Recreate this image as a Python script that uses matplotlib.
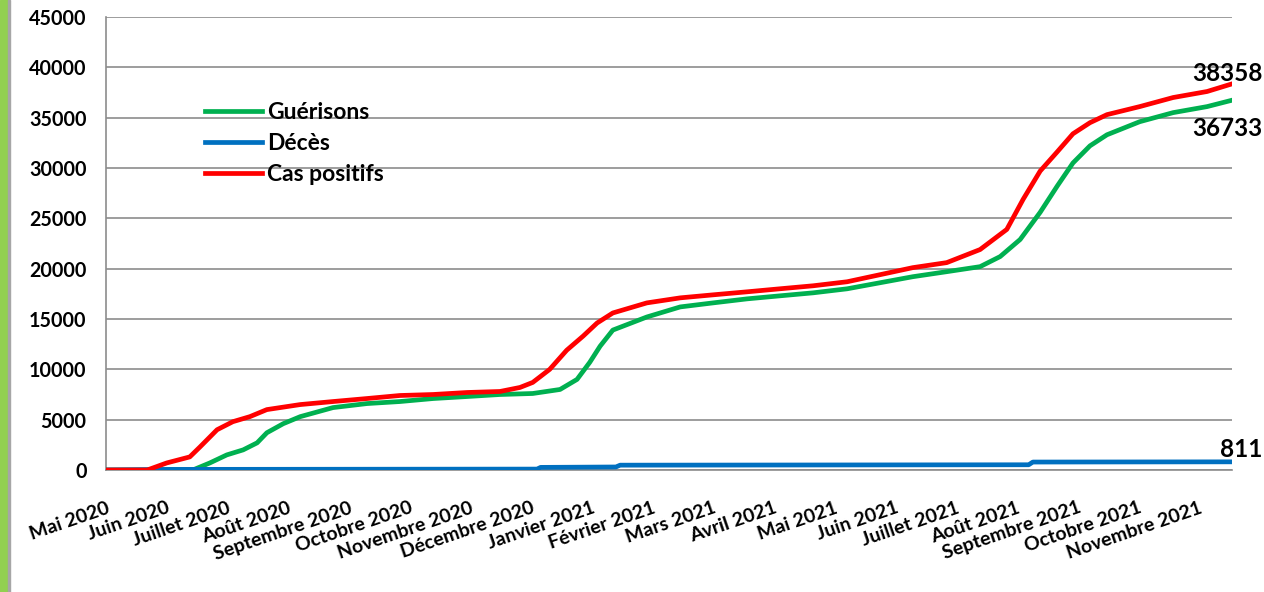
import matplotlib
matplotlib.use("Agg")
from matplotlib import pyplot as plt
from matplotlib.patches import Rectangle

plt.rcParams['font.family'] = ['Lato', 'DejaVu Sans']
plt.rcParams['font.weight'] = 'bold'

# month labels, one per tick (0 = Mai 2020)
months = ['Mai 2020', 'Juin 2020', 'Juillet 2020', 'Août 2020', 'Septembre 2020',
          'Octobre 2020', 'Novembre 2020', 'Décembre 2020', 'Janvier 2021',
          'Février 2021', 'Mars 2021', 'Avril 2021', 'Mai 2021', 'Juin 2021',
          'Juillet 2021', 'Août 2021', 'Septembre 2021', 'Octobre 2021',
          'Novembre 2021']

# cumulative curves, x in months since start of May 2020
cas_x = [0, 0.68, 1.0, 1.38, 1.55, 1.83, 2.09, 2.37, 2.65, 3.2, 3.74, 4.3, 4.84,
         5.39, 5.95, 6.49, 6.82, 7.03, 7.31, 7.59, 7.86, 8.09, 8.35, 8.91, 9.46,
         10.0, 10.56, 11.1, 11.65, 12.21, 12.75, 13.29, 13.85, 14.4, 14.84,
         15.11, 15.39, 15.67, 15.93, 16.21, 16.49, 17.03, 17.58, 18.14, 18.55]
cas = [0, 0, 700, 1300, 2300, 4000, 4800, 5300, 6000, 6500, 6800, 7100, 7400,
       7500, 7700, 7800, 8200, 8700, 10000, 11900, 13300, 14600, 15600, 16600, 17100,
       17400, 17700, 18000, 18300, 18700, 19400, 20100, 20600, 21900, 23900,
       26900, 29700, 31600, 33400, 34500, 35300, 36100, 37000, 37600, 38358]

gue_x = [0, 1.43, 1.71, 1.99, 2.26, 2.49, 2.65, 2.92, 3.2, 3.74, 4.3, 4.84, 5.39,
         5.95, 6.49, 7.03, 7.48, 7.76, 7.97, 8.14, 8.35, 8.91, 9.46, 10.0, 10.56,
         11.1, 11.65, 12.21, 12.75, 13.29, 13.85, 14.4, 14.73, 15.06, 15.39, 15.67,
         15.93, 16.21, 16.49, 17.03, 17.58, 18.14, 18.55]
guerisons = [0, 0, 700, 1500, 2000, 2700, 3700, 4600, 5300, 6200, 6600, 6800, 7100,
             7300, 7500, 7600, 8000, 9000, 10700, 12300, 13900, 15200, 16200, 16600, 17000,
             17300, 17600, 18000, 18600, 19200, 19700, 20200, 21200, 22900, 25600, 28200,
             30500, 32200, 33300, 34600, 35500, 36100, 36733]

dec_x = [0, 1.0, 7.1, 7.16, 8.4, 8.47, 15.2, 15.27, 18.55]
deces = [0, 60, 90, 260, 300, 480, 520, 790, 811]

fig = plt.figure(figsize=(12.64, 5.92), dpi=100)
ax = fig.add_axes([106 / 1264, 1 - 470 / 592, 1126 / 1264, 453 / 592])

# green strip on the left edge of the slide
fig.patches.append(Rectangle((0, 0), 8 / 1264, 1, transform=fig.transFigure,
                             color='#92D050', zorder=0))
fig.patches.append(Rectangle((8 / 1264, 0), 1.5 / 1264, 1, transform=fig.transFigure,
                             color='#a6a6a6', zorder=0))

ax.plot(gue_x, guerisons, color='#00B050', lw=3.4, label='Guérisons', zorder=3)
ax.plot(dec_x, deces, color='#0070C0', lw=3.4, label='Décès', zorder=3)
ax.plot(cas_x, cas, color='#FF0000', lw=3.4, label='Cas positifs', zorder=4)

ax.set_xlim(0, 18.55)
ax.set_ylim(0, 45000)
ax.set_yticks(range(0, 45001, 5000))
ax.set_xticks(range(len(months)))
ax.set_xticklabels(months, rotation=19, ha='right', va='top', rotation_mode='anchor')
ax.tick_params(axis='both', length=0)
ax.tick_params(axis='y', pad=14, labelsize=14.2)
ax.tick_params(axis='x', pad=21, labelsize=14)

ax.grid(axis='y', color='#8c8c8c', lw=1.2)
ax.set_axisbelow(True)
for side in ['top', 'right']:
    ax.spines[side].set_visible(False)
ax.spines['left'].set_color('#8c8c8c')
ax.spines['left'].set_linewidth(1.2)
ax.spines['bottom'].set_color('#8c8c8c')
ax.spines['bottom'].set_linewidth(1.2)

leg = ax.legend(loc='upper left', bbox_to_anchor=(0.088, 0.812), frameon=False,
                fontsize=16.5, handlelength=2.5, handletextpad=0.22,
                labelspacing=0.43, borderpad=0, borderaxespad=0)
for line in leg.get_lines():
    line.set_linewidth(3.4)

ax.annotate('38358', xy=(cas_x[-1], cas[-1]), xytext=(-5, 10),
            textcoords='offset pixels', ha='center', va='center', fontsize=17.5)
ax.annotate('36733', xy=(gue_x[-1], guerisons[-1]), xytext=(-5, -28),
            textcoords='offset pixels', ha='center', va='center', fontsize=17.5)
ax.annotate('811', xy=(dec_x[-1], deces[-1]), xytext=(9, 12),
            textcoords='offset pixels', ha='center', va='center', fontsize=17.5)

fig.savefig('out.png', dpi=100)
